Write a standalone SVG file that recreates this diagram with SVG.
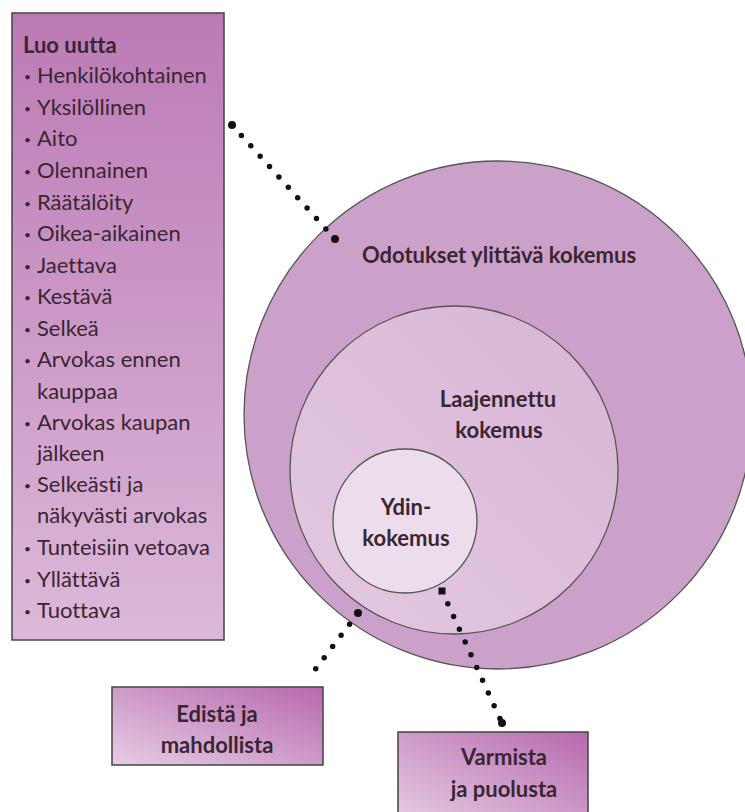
<svg xmlns="http://www.w3.org/2000/svg" width="745" height="812" viewBox="0 0 745 812">
<style>
.t{font-family:Lato,"Open Sans","Liberation Sans",sans-serif;fill:#3a2633;font-size:22px;font-variant-ligatures:none;font-feature-settings:"liga" 0}
.b{font-weight:bold}
.c{text-anchor:middle}
.bl{font-family:Lato,"Liberation Sans",sans-serif;fill:#3a2633;font-size:12px}
.box{stroke:#444;stroke-width:1.5}
.circ{stroke:#555;stroke-width:1.3}
.dots{stroke:#111;stroke-width:5.5;stroke-linecap:round;stroke-dasharray:0 14;fill:none}
.end{fill:#111}
</style>
<defs>
<linearGradient id="gl" x1="0" y1="0" x2="0" y2="1">
<stop offset="0" stop-color="#bc7ab5"/>
<stop offset="1" stop-color="#dcb9da"/>
</linearGradient>
<linearGradient id="gb" x1="0" y1="1" x2="1" y2="0">
<stop offset="0" stop-color="#e6cde4"/>
<stop offset="1" stop-color="#b769ae"/>
</linearGradient>
<linearGradient id="gm" x1="0" y1="1" x2="1" y2="0">
<stop offset="0" stop-color="#e3c9e1"/>
<stop offset="1" stop-color="#d8b5d6"/>
</linearGradient>
</defs>
<g id="outer-circle">
<circle class="circ" cx="498" cy="415" r="254" fill="#cca1c9"/>
<text class="t b c" x="499" y="263" font-size="22.5">Odotukset ylittävä kokemus</text>
</g>
<g id="middle-circle">
<circle class="circ" cx="454" cy="470" r="164" fill="url(#gm)"/>
<text class="t b c" x="498" y="407" font-size="22.5">Laajennettu</text>
<text class="t b c" x="499" y="438" font-size="22.5">kokemus</text>
</g>
<g id="inner-circle">
<circle class="circ" cx="405" cy="521" r="72" fill="#ecdcec"/>
<text class="t b c" x="406" y="515" font-size="22.5">Ydin-</text>
<text class="t b c" x="406" y="546" font-size="22.5">kokemus</text>
</g>
<g id="luo-uutta">
<rect class="box" x="12" y="13" width="212" height="627" fill="url(#gl)"/>
<text class="t b" x="23" y="53">Luo uutta</text>
<g class="bl">
<text x="24" y="81">•</text>
<text x="24" y="113">•</text>
<text x="24" y="144">•</text>
<text x="24" y="176">•</text>
<text x="24" y="208">•</text>
<text x="24" y="239">•</text>
<text x="24" y="271">•</text>
<text x="24" y="302">•</text>
<text x="24" y="334">•</text>
<text x="24" y="365">•</text>
<text x="24" y="428">•</text>
<text x="24" y="490">•</text>
<text x="24" y="553">•</text>
<text x="24" y="585">•</text>
<text x="24" y="616">•</text>
</g>
<text class="t">
<tspan x="37" y="83">Henkilökohtainen</tspan>
<tspan x="37" y="115">Yksilöllinen</tspan>
<tspan x="37" y="146">Aito</tspan>
<tspan x="37" y="178">Olennainen</tspan>
<tspan x="37" y="210">Räätälöity</tspan>
<tspan x="37" y="241">Oikea-aikainen</tspan>
<tspan x="37" y="273">Jaettava</tspan>
<tspan x="37" y="304">Kestävä</tspan>
<tspan x="37" y="336">Selkeä</tspan>
<tspan x="37" y="367">Arvokas ennen</tspan>
<tspan x="37" y="399">kauppaa</tspan>
<tspan x="37" y="430">Arvokas kaupan</tspan>
<tspan x="37" y="461">jälkeen</tspan>
<tspan x="37" y="492">Selkeästi ja</tspan>
<tspan x="37" y="523">näkyvästi arvokas</tspan>
<tspan x="37" y="555">Tunteisiin vetoava</tspan>
<tspan x="37" y="587">Yllättävä</tspan>
<tspan x="37" y="618">Tuottava</tspan>
</text>
</g>
<g id="edista">
<rect class="box" x="112" y="687" width="211" height="78" fill="url(#gb)"/>
<text class="t b c" x="217" y="722" font-size="22.5">Edistä ja</text>
<text class="t b c" x="217" y="753" font-size="22.5">mahdollista</text>
</g>
<g id="varmista">
<rect class="box" x="398" y="732" width="190" height="90" fill="url(#gb)"/>
<text class="t b c" x="504" y="765" font-size="22.5">Varmista</text>
<text class="t b c" x="504" y="797" font-size="22.5">ja puolusta</text>
</g>
<g id="connectors">
<line class="dots" x1="232" y1="125" x2="335" y2="239"/>
<circle class="end" cx="232" cy="125" r="4"/>
<circle class="end" cx="335" cy="239" r="4"/>
<line class="dots" x1="358" y1="613" x2="308" y2="679"/>
<circle class="end" cx="358" cy="613" r="4"/>
<line class="dots" x1="442" y1="591" x2="502" y2="723"/>
<rect class="end" x="438.5" y="587.5" width="7" height="7"/>
<circle class="end" cx="502" cy="723" r="4"/>
</g>
</svg>
